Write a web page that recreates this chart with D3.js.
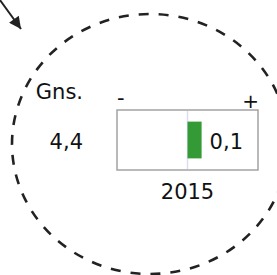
<!DOCTYPE html>
<html>
<head>
<meta charset="utf-8">
<script src="https://cdn.jsdelivr.net/npm/d3@7"></script>
<style>
  body { margin: 0; background: #fff; }
  svg text { font-family: "DejaVu Sans", Verdana, sans-serif; fill: #111; }
</style>
</head>
<body>
<div id="chart"></div>
<script>
// data
var years = ["2015"];
var changes = [0.1];
var avgLabel = "Gns.";
var avgValue = [4.4];
var domainLimits = [-0.5, 0.5];

var width = 277, height = 275;

var da = d3.formatLocale({decimal: ",", thousands: ".", grouping: [3], currency: ["", " kr"]});
var fmt = da.format(".1f");

var svg = d3.select("#chart")
  .append("svg")
  .attr("width", width)
  .attr("height", height);

// dashed circle (a bit wider than tall)
svg.append("ellipse")
  .attr("cx", 150)
  .attr("cy", 144)
  .attr("rx", 138)
  .attr("ry", 130)
  .attr("fill", "none")
  .attr("stroke", "#222")
  .attr("stroke-width", 2.6)
  .attr("stroke-dasharray", "10,10");

// arrow in the corner
svg.append("defs").append("marker")
  .attr("id", "arrowhead")
  .attr("viewBox", "0 0 10 10")
  .attr("refX", 10)
  .attr("refY", 5)
  .attr("markerWidth", 7)
  .attr("markerHeight", 6)
  .attr("markerUnits", "strokeWidth")
  .attr("orient", "auto")
  .append("path")
  .attr("d", "M0,0 L10,5 L0,10 Z")
  .attr("fill", "#222");

svg.append("line")
  .attr("x1", -3).attr("y1", -4)
  .attr("x2", 21).attr("y2", 29)
  .attr("stroke", "#222")
  .attr("stroke-width", 2)
  .attr("marker-end", "url(#arrowhead)");

// box with bars
var box = {left: 117, right: 258, top: 110, bottom: 170};

var x = d3.scaleLinear()
  .domain(domainLimits)
  .range([box.left, box.right]);

var y = d3.scaleBand()
  .domain(years)
  .range([box.top, box.bottom])
  .padding(0.24);

svg.append("rect")
  .attr("x", box.left)
  .attr("y", box.top)
  .attr("width", box.right - box.left)
  .attr("height", box.bottom - box.top)
  .attr("fill", "none")
  .attr("stroke", "#a3a3a3")
  .attr("stroke-width", 1.5);

svg.append("line")
  .attr("x1", x(0)).attr("x2", x(0))
  .attr("y1", box.top + 1).attr("y2", box.bottom - 1)
  .attr("stroke", "#dcdcf2")
  .attr("stroke-width", 1.5);

svg.selectAll(".bar")
  .data(changes)
  .enter().append("rect")
  .attr("class", "bar")
  .attr("x", d => Math.min(x(0), x(d)))
  .attr("y", (d, i) => y(years[i]))
  .attr("width", d => Math.abs(x(d) - x(0)))
  .attr("height", y.bandwidth())
  .attr("fill", "#339a35");

svg.selectAll(".val")
  .data(changes)
  .enter().append("text")
  .attr("class", "val")
  .attr("x", d => x(Math.max(0, d)) + 8)
  .attr("y", 149)
  .style("font-size", "21px")
  .text(d => fmt(d));

// year below
svg.selectAll(".year")
  .data(years)
  .enter().append("text")
  .attr("class", "year")
  .attr("x", x(0))
  .attr("y", 199)
  .attr("text-anchor", "middle")
  .style("font-size", "21px")
  .text(d => d);

// minus / plus
svg.append("text")
  .attr("x", box.left)
  .attr("y", 105)
  .style("font-size", "21px")
  .text("-");

svg.append("text")
  .attr("x", box.right + 1)
  .attr("y", 108)
  .attr("text-anchor", "end")
  .style("font-size", "20px")
  .text("+");

// average on the left
svg.append("text")
  .attr("x", 83)
  .attr("y", 99)
  .attr("text-anchor", "end")
  .style("font-size", "21px")
  .text(avgLabel);

svg.append("text")
  .attr("x", 83)
  .attr("y", 149)
  .attr("text-anchor", "end")
  .style("font-size", "21px")
  .text(fmt(avgValue[0]));
</script>
</body>
</html>
